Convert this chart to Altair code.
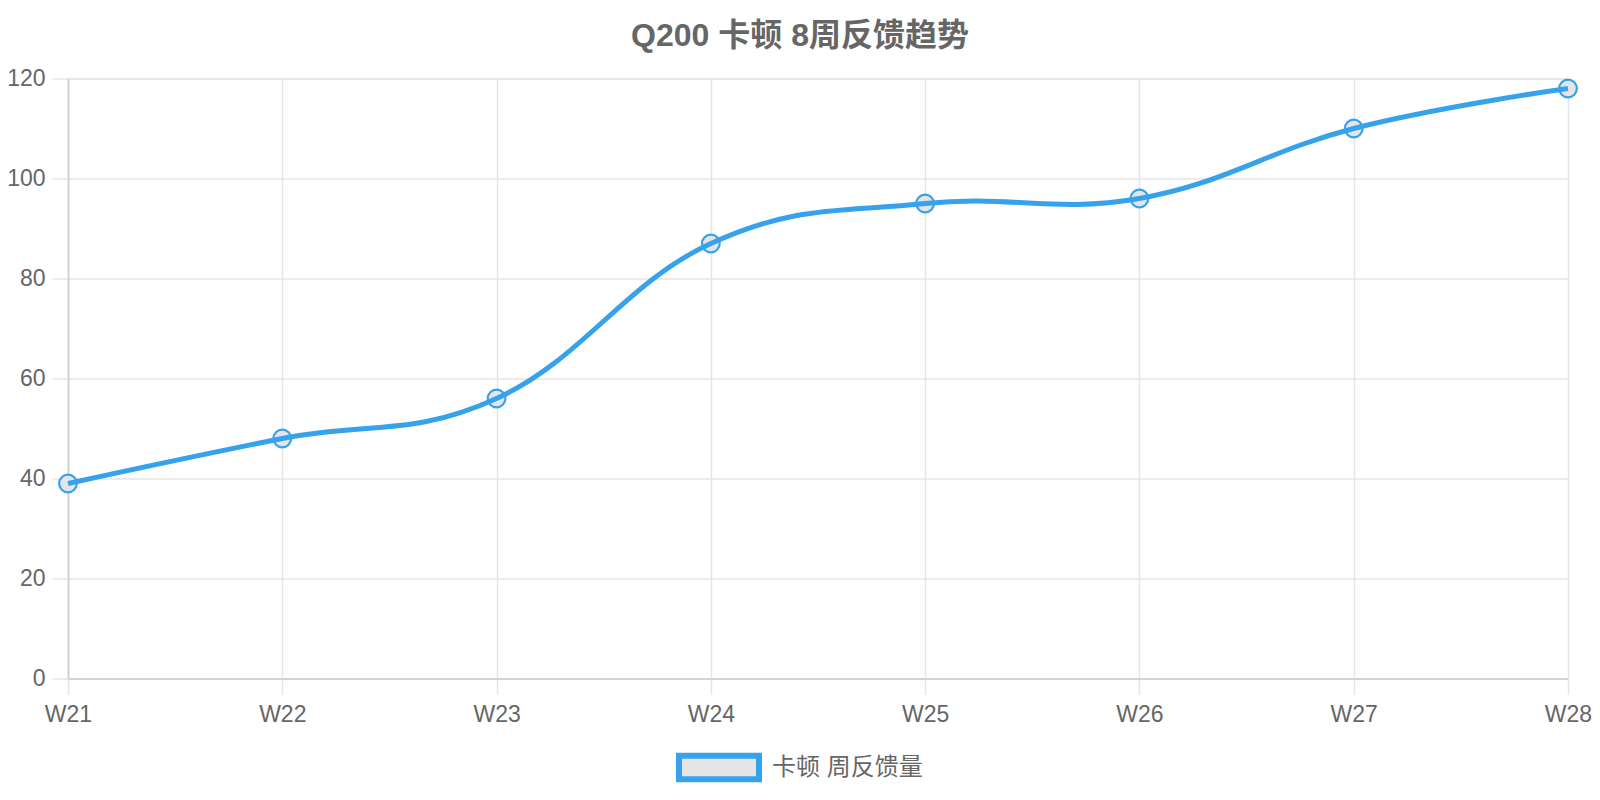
import altair as alt
import pandas as pd

weeks = ["W21", "W22", "W23", "W24", "W25", "W26", "W27", "W28"]
values = [39, 48, 56, 87, 95, 96, 110, 118]
series_name = "卡顿 周反馈量"
title_text = "Q200 卡顿 8周反馈趋势"
y_ticks = [0, 20, 40, 60, 80, 100, 120]

df = pd.DataFrame({"week": weeks, "value": values, "series": [series_name] * len(weeks)})

FONT = "Liberation Sans, Arial, Noto Sans CJK SC, sans-serif"
BLUE = "#36a2eb"
TEXT = "#666666"
GRID = "#e5e5e5"

x_enc = alt.X(
    "week:O",
    sort=weeks,
    scale=alt.Scale(type="point", padding=0),
    axis=alt.Axis(
        title=None,
        labelAngle=0,
        labelFontSize=23,
        labelColor=TEXT,
        labelFont=FONT,
        tickSize=16,
        tickColor=GRID,
        tickWidth=1.5,
        labelPadding=9,
        domainColor="#cccccc",
        domainWidth=1.5,
        grid=True,
        gridColor=GRID,
        gridWidth=1.5,
    ),
)
y_enc = alt.Y(
    "value:Q",
    scale=alt.Scale(domain=[0, 120], nice=False, zero=True),
    axis=alt.Axis(
        title=None,
        values=y_ticks,
        labelFontSize=23,
        labelColor=TEXT,
        labelFont=FONT,
        tickSize=16,
        tickColor=GRID,
        tickWidth=1.5,
        labelPadding=7,
        domainColor="#cccccc",
        domainWidth=1.5,
        grid=True,
        gridColor=GRID,
        gridWidth=1.5,
    ),
)

points = alt.Chart(df).mark_point(
    shape="circle", size=314, filled=False, fill=GRID, fillOpacity=1,
    stroke=BLUE, strokeWidth=2.2, opacity=1
).encode(x=x_enc, y=y_enc)

line = alt.Chart(df).mark_line(
    interpolate="cardinal", tension=-0.2, strokeWidth=5, strokeCap="butt"
).encode(
    x=x_enc,
    y=y_enc,
    color=alt.Color(
        "series:N",
        scale=alt.Scale(range=[BLUE]),
        legend=alt.Legend(
            title=None,
            orient="none",
            legendX=608,
            legendY=646,
            direction="horizontal",
            symbolType="M-1,-0.292H1V0.292H-1Z",
            symbolSize=6400,
            symbolStrokeWidth=6,
            symbolFillColor=GRID,
            symbolOpacity=1,
            labelFontSize=24,
            labelColor=TEXT,
            labelFont=FONT,
            labelOffset=10,
            padding=0,
        ),
    ),
)

chart = alt.layer(points, line).properties(
    width=1500,
    height=600,
    autosize=alt.AutoSizeParams(type="none"),
    padding={"left": 60, "top": 70.5, "right": 24, "bottom": 106},
    title=alt.Title(
        title_text,
        fontSize=32,
        fontWeight="bold",
        color=TEXT,
        font=FONT,
        anchor="middle",
        dx=-18,
        offset=15,
    ),
).configure_view(stroke=None).configure(background="white")

chart.save("out.html", embed_options={"renderer": "svg", "actions": False})
